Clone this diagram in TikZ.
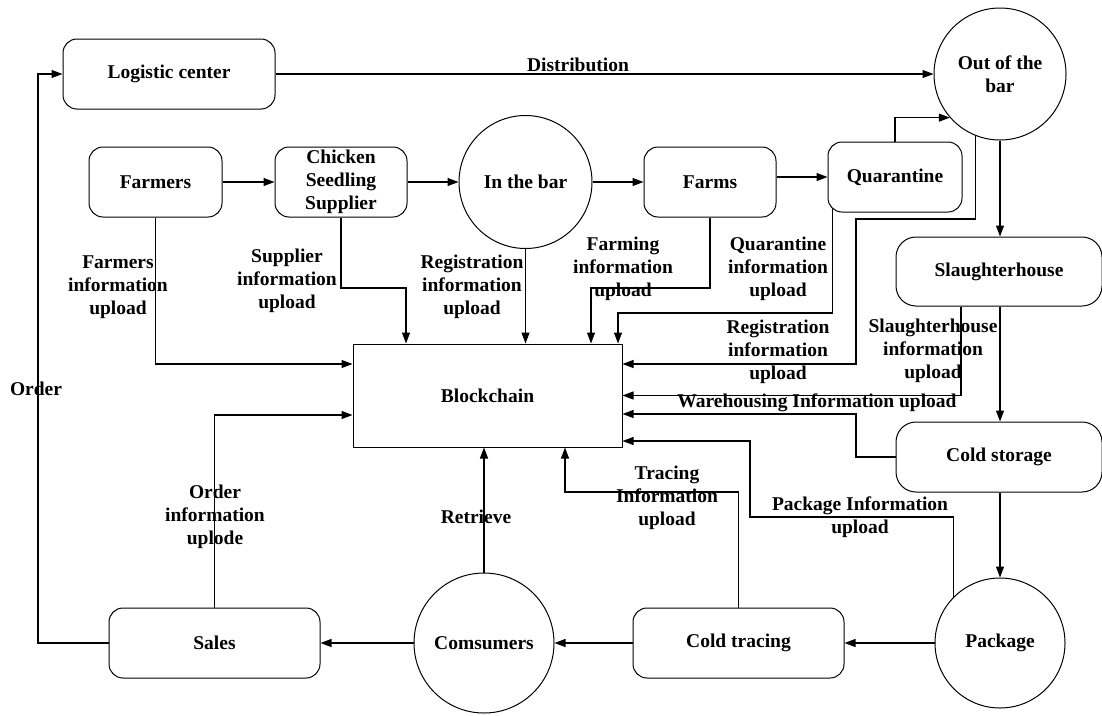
\documentclass[tikz,border=0pt]{standalone}
\usepackage{fontspec}
\setmainfont{Liberation Serif}
\usetikzlibrary{arrows.meta}
\begin{document}
\begin{tikzpicture}[x=1pt,y=-1pt,
  every node/.style={font=\fontsize{19.5}{23}\selectfont\bfseries, align=center, inner sep=0pt},
  rbox/.style={draw, line width=1pt, rounded corners=14pt, minimum height=70pt},
  circ/.style={draw, line width=1pt, circle},
  arr/.style={line width=1.1pt, -{Triangle[length=11pt,width=8pt]}}]
\useasboundingbox (0,0) rectangle (1102,715);
% nodes
\node[rbox, minimum width=212pt] (lc) at (169,74) {Logistic center};
\node[rbox, minimum width=133pt] (fa) at (155.5,182) {Farmers};
\node[rbox, minimum width=132pt] (su) at (341,182) {Chicken\\Seedling\\Supplier};
\node[circ, minimum size=133pt] (ib) at (525.5,182) {In the bar};
\node[rbox, minimum width=132pt] (fm) at (710,182) {Farms};
\node[rbox, minimum width=134pt] (qu) at (895,177) {Quarantine};
\node[circ, minimum size=132pt] (ob) at (1000,74) {Out of the\\bar};
\node[rbox, rounded corners=20pt, minimum width=206pt, minimum height=69pt] (sh) at (999,271.5) {Slaughterhouse};
\node[rbox, rounded corners=20pt, minimum width=206pt] (cs) at (999,457) {Cold storage};
\node[circ, minimum size=130pt] (pk) at (1000,643) {Package};
\node[rbox, minimum width=211pt] (ct) at (738.5,643) {Cold tracing};
\node[circ, minimum size=140pt] (cm) at (484,643) {Comsumers};
\node[rbox, minimum width=211pt] (sa) at (214.5,643) {Sales};
\node[draw, line width=1pt, minimum width=269pt, minimum height=103pt] (bc) at (487.5,395.5) {Blockchain};
% bend coordinates
\coordinate (o1) at (38,74);
\coordinate (q1) at (618,313);
\coordinate (f1) at (591,288);
\coordinate (s1) at (406,288);
\coordinate (y364) at (0,364);
\coordinate (r1) at (856,219);
\coordinate (w1) at (856,414);
\coordinate (p1) at (750,517);
\coordinate (y441) at (0,441);
\coordinate (t1) at (565,492);
\coordinate (y415) at (0,415);
% main flow
\draw[arr] (lc.east) -- (ob.west);
\draw[arr] (fa) -- (su);
\draw[arr] (su) -- (ib);
\draw[arr] (ib) -- (fm);
\draw[arr] (fm.east |- qu.west) -- (qu.west);
\draw[arr] (qu.north) |- (ob.221);
\draw[arr] (ob.south) -- (ob.south |- sh.north);
\draw[arr] (sh.south -| ob.south) -- (cs.north -| ob.south);
\draw[arr] (cs.south -| pk.north) -- (pk.north);
\draw[arr] (pk) -- (ct);
\draw[arr] (ct) -- (cm);
\draw[arr] (cm) -- (sa);
\draw[arr] (sa.west) -| (o1) -- (lc.west);
% information uploads
\draw[arr] (fa.south) |- (bc.west |- y364);
\draw[arr] (su.south) |- (s1) -- (s1 |- bc.north);
\draw[arr] (ib.south) -- (ib.south |- bc.north);
\draw[arr] (fm.south) |- (f1) -- (f1 |- bc.north);
\draw[arr] ([xshift=5pt,yshift=4pt]qu.south west) |- (q1) -- (q1 |- bc.north);
\draw[arr] (ob.248.7) |- (r1) |- (bc.east |- y364);
\draw[arr] ([xshift=-38pt]sh.south) |- (bc.east);
\draw[arr] (cs.west) -| (w1) -- (bc.east |- w1);
\draw[arr] (pk.135) |- (p1) |- (bc.east |- y441);
\draw[arr] (ct.north) |- (t1) -- (t1 |- bc.south);
\draw[arr] (cm.north) -- (cm.north |- bc.south);
\draw[arr] (sa.north) |- (bc.west |- y415);
% labels
\node (lDist) at (578,65) {Distribution};
\node (lOrd) at (36,389) {Order};
\node (lFa) at (118,287) {Farmers\\information\\upload};
\node (lSu) at (287,281) {Supplier\\information\\upload};
\node (lReg1) at (472,287) {Registration\\information\\upload};
\node (lFm) at (623,269) {Farming\\information\\upload};
\node (lQu) at (778,269) {Quarantine\\information\\upload};
\node (lReg2) at (778,352) {Registration\\information\\upload};
\node (lSh) at (933,351) {Slaughterhouse\\information\\upload};
\node (lWh) at (817,403) {Warehousing Information upload};
\node (lPk) at (860,517) {Package Information\\upload};
\node (lTr) at (667,498) {Tracing\\Information\\upload};
\node (lOi) at (215,517) {Order\\information\\uplode};
\node (lRe) at (476,517) {Retrieve};
\end{tikzpicture}
\end{document}
